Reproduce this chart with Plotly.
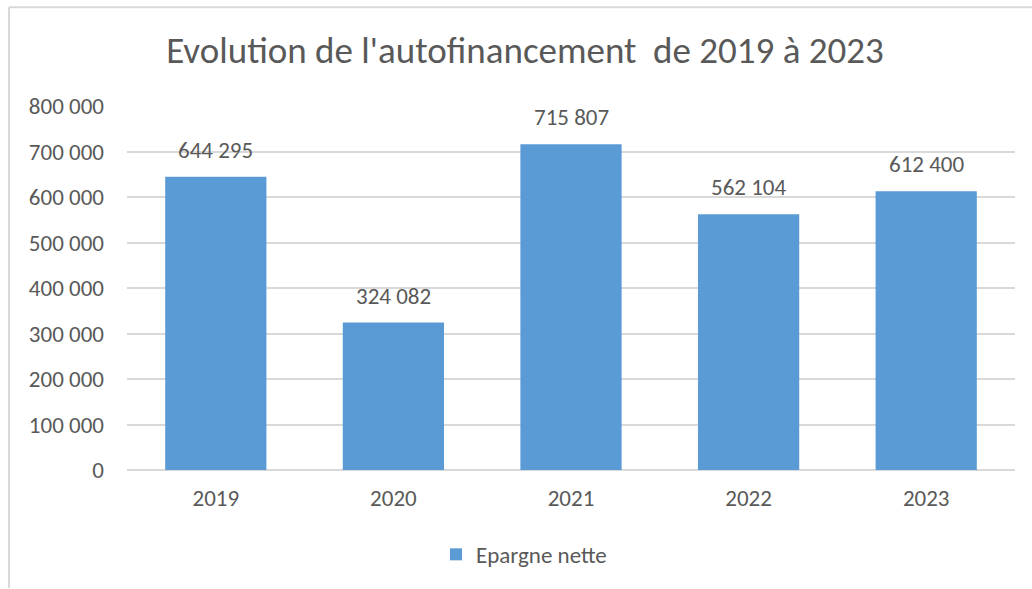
import plotly.graph_objects as go

years = ["2019", "2020", "2021", "2022", "2023"]
epargne_nette = [644295, 324082, 715807, 562104, 612400]
y_ticks = [0, 100000, 200000, 300000, 400000, 500000, 600000, 700000, 800000]

FONT = "Calibri, Carlito, 'Open Sans', sans-serif"
TXT = "#595959"
GRID = "#D9D9D9"
BAR = "#5B9BD5"
FS = 23

W, H = 1032, 589
L, R, T, B = 127, 17, 106, 118.5
pw = W - L - R
ph = H - T - B

def fmt(v):
    return f"{v:,}".replace(",", " ")

xpos = list(range(len(years)))

fig = go.Figure()
fig.add_trace(go.Bar(
    x=xpos, y=epargne_nette, name="Epargne nette",
    marker=dict(color=BAR, line=dict(width=0)),
    width=0.57,
    showlegend=True,
))

for xv, yv in zip(xpos, epargne_nette):
    fig.add_annotation(x=xv, y=yv, text=fmt(yv), showarrow=False,
                       yanchor="bottom", xanchor="center", yshift=11,
                       font=dict(family=FONT, size=FS, color=TXT))

# chart border (top and left visible)
top_y = (H - B - 7) / ph
left_x = (9 - L) / pw
fig.add_shape(type="line", xref="paper", yref="paper",
              x0=left_x, x1=(W - L) / pw, y0=top_y, y1=top_y,
              line=dict(color=GRID, width=2))
fig.add_shape(type="line", xref="paper", yref="paper",
              x0=left_x, x1=left_x, y0=top_y, y1=-(B) / ph,
              line=dict(color=GRID, width=2))

fig.update_layout(
    width=W, height=H,
    margin=dict(l=L, r=R, t=T, b=B),
    paper_bgcolor="white", plot_bgcolor="white",
    title=dict(text="Evolution de l'autofinancement  de 2019 à 2023",
               x=525 / W, xref="container", xanchor="center",
               y=1 - 50 / H, yref="container", yanchor="middle",
               font=dict(family=FONT, size=37, color=TXT)),
    font=dict(family=FONT, size=FS, color=TXT),
    legend=dict(orientation="h", x=0.5 - 47 / pw, xanchor="center",
                y=-(555 - (H - B)) / ph, yanchor="middle",
                font=dict(family=FONT, size=FS, color=TXT),
                itemwidth=30),
    xaxis=dict(range=[-0.5, len(years) - 0.5], tickvals=xpos, ticktext=years,
               showgrid=False, showline=False, ticks="", zeroline=False,
               tickfont=dict(family=FONT, size=FS, color=TXT),
               ticklabelstandoff=12),
    yaxis=dict(range=[0, 800000], tickvals=y_ticks,
               ticktext=[fmt(v) for v in y_ticks],
               showgrid=True, gridcolor=GRID, gridwidth=1.5,
               zeroline=True, zerolinecolor=GRID, zerolinewidth=1.5,
               showline=False, ticks="",
               tickfont=dict(family=FONT, size=FS, color=TXT),
               ticklabelstandoff=22),
)

fig.write_html("out.html", config={"displayModeBar": False},
               post_script="document.body.style.margin='0';")
